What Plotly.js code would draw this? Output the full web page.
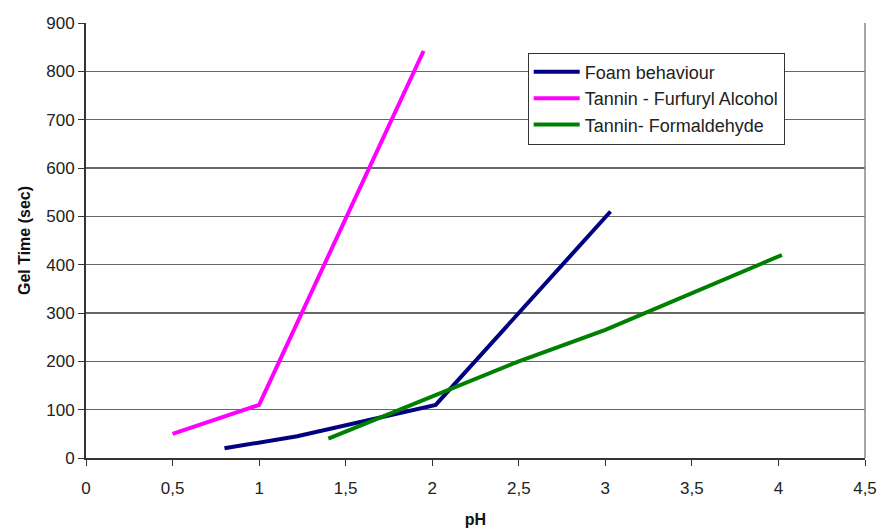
<!DOCTYPE html>
<html>
<head>
<meta charset="utf-8">
<script src="https://cdn.plot.ly/plotly-3.0.1.min.js"></script>
<style>
html,body{margin:0;padding:0;background:#fff;}
#chart{width:879px;height:532px;}
</style>
</head>
<body>
<div id="chart"></div>
<script>
// Data
const foamPH = [0.8, 1.22, 2.02, 3.03];
const foamTime = [20, 45, 110, 510];

const tfaPH = [0.5, 1.0, 1.95];
const tfaTime = [50, 110, 842];

const tfPH = [1.4, 2.0, 2.5, 3.0, 3.5, 4.02];
const tfTime = [40, 128, 200, 265, 340, 420];

const seriesNames = ["Foam behaviour", "Tannin - Furfuryl Alcohol", "Tannin- Formaldehyde"];
const xTicks = [0, 0.5, 1, 1.5, 2, 2.5, 3, 3.5, 4, 4.5];
const xTickText = ["0", "0,5", "1", "1,5", "2", "2,5", "3", "3,5", "4", "4,5"];
const yTicks = [0, 100, 200, 300, 400, 500, 600, 700, 800, 900];

const traces = [
  {x: foamPH, y: foamTime, name: seriesNames[0], mode: "lines", line: {color: "#000080", width: 4}},
  {x: tfaPH, y: tfaTime, name: seriesNames[1], mode: "lines", line: {color: "#FF00FF", width: 4}},
  {x: tfPH, y: tfTime, name: seriesNames[2], mode: "lines", line: {color: "#008000", width: 4}}
];

const layout = {
  width: 879, height: 532,
  margin: {l: 86, r: 14, t: 23, b: 74},
  paper_bgcolor: "#fff", plot_bgcolor: "#fff",
  font: {family: "Liberation Sans, Arial, sans-serif", size: 17, color: "#222"},
  showlegend: true,
  legend: {
    x: 0.567, y: 0.932, xanchor: "left", yanchor: "top",
    bgcolor: "#fff", bordercolor: "#333", borderwidth: 1,
    font: {size: 18, color: "#222"}, tracegroupgap: 0, itemwidth: 46
  },
  xaxis: {
    range: [0, 4.5], tickvals: xTicks, ticktext: xTickText,
    showgrid: false, zeroline: false, showline: true, linecolor: "#333", linewidth: 2,
    ticks: "outside", ticklen: 6, tickcolor: "#333", tickwidth: 1,
    mirror: false, fixedrange: true, ticklabelstandoff: 8,
    title: {text: "pH", font: {size: 16, color: "#111", weight: "bold"}, standoff: 16}
  },
  yaxis: {
    range: [0, 900], tickvals: yTicks,
    showgrid: true, gridcolor: "#666", gridwidth: 1.5,
    zeroline: false, showline: true, linecolor: "#333", linewidth: 2,
    ticks: "outside", ticklen: 6, tickcolor: "#333", tickwidth: 1,
    fixedrange: true,
    title: {text: "Gel Time (sec)", font: {size: 16, color: "#111", weight: "bold"}, standoff: 12}
  },
  shapes: [
    {type: "line", xref: "paper", yref: "paper", x0: 1, x1: 1, y0: 0, y1: 1, line: {color: "#888", width: 1.5}}
  ]
};

Plotly.newPlot("chart", traces, layout, {staticPlot: true});
</script>
</body>
</html>
